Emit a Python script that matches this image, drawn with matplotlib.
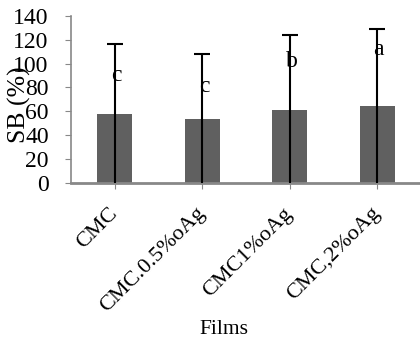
import matplotlib
matplotlib.use('Agg')
import matplotlib.pyplot as plt
import matplotlib.transforms as mtransforms

films = ['CMC', 'CMC.0.5%oAg', 'CMC1%oAg', 'CMC,2%oAg']
sb_mean = [58, 53.4, 61.2, 64.5]
sb_err = [58.5, 55, 63, 64.3]
letters = ['c', 'c', 'b', 'a']
letter_y = [90, 81, 101.5, 112]

plt.rcParams['font.family'] = ['Liberation Serif', 'DejaVu Serif']

fig = plt.figure(figsize=(4.2, 3.43), dpi=100)
ax = fig.add_axes([0.169, 0.4665, 0.833, 0.4875])

x = list(range(len(films)))
ax.bar(x, sb_mean, width=0.4, color='#606060', zorder=2)
eb = ax.errorbar(x, sb_mean, yerr=sb_err, fmt='none', ecolor='black',
                 elinewidth=1.5, capsize=6, capthick=1.5, zorder=3)
# only the upper caps are shown
eb[1][0].set_visible(False)
for xi, lab, ly in zip(x, letters, letter_y):
    ax.text(xi + 0.02, ly, lab, ha='center', va='center', fontsize=17)

ax.set_xlim(-0.5, len(films) - 0.5)
ax.set_ylim(0, 140)
ax.set_yticks(range(0, 141, 20))
ax.set_xticks(x)
ax.set_xticklabels(films, rotation=45, ha='right', va='center',
                   rotation_mode='anchor', fontsize=16)
shift = mtransforms.ScaledTranslation(6 / 100, 0, fig.dpi_scale_trans)
for t in ax.get_xticklabels():
    t.set_transform(t.get_transform() + shift)
ax.tick_params(axis='y', labelsize=17, pad=12, length=4, color='#888888')
ax.tick_params(axis='x', pad=16, length=4, color='#888888')

for s in ['top', 'right']:
    ax.spines[s].set_visible(False)
for s in ['left', 'bottom']:
    ax.spines[s].set_color('#888888')
ax.spines['bottom'].set_linewidth(2)
ax.spines['left'].set_linewidth(1.2)

fig.text(19 / 420, 0.694, 'SB (%)', rotation=90, ha='center', va='center',
         fontsize=18.5)
fig.text(0.533, 0.038, 'Films', ha='center', va='center', fontsize=15.5)

fig.savefig('out.png', dpi=100)
